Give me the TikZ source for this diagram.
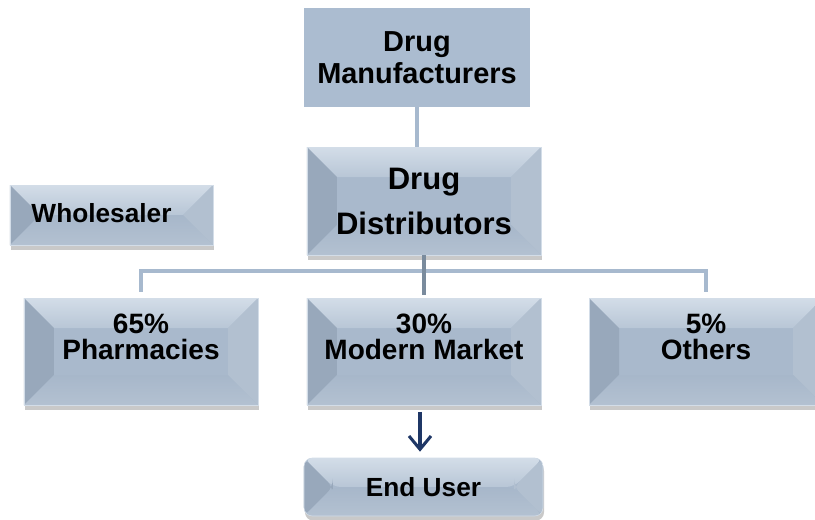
\documentclass[tikz,border=0pt]{standalone}
\usepackage{fontspec}
\setmainfont{Liberation Sans}
\usetikzlibrary{positioning,arrows.meta,shadows}
\definecolor{facecol}{HTML}{A9B9CC}
\definecolor{bevtopA}{HTML}{D3DDE8}
\definecolor{bevtopB}{HTML}{B8C6D6}
\definecolor{bevleft}{HTML}{98A8BB}
\definecolor{bevright}{HTML}{B2C0D0}
\definecolor{bevbotA}{HTML}{A7B7CA}
\definecolor{bevbotB}{HTML}{B3C1D1}
\definecolor{flatcol}{HTML}{ABBCD0}
\definecolor{linkcol}{HTML}{A7B9CE}
\definecolor{trunkcol}{HTML}{7A8B9D}
\definecolor{navy}{HTML}{1F3766}
\tikzset{
  bevel/.style={draw=bevtopA, line width=0.5pt,
    drop shadow={shadow xshift=0.03cm, shadow yshift=-0.14cm, opacity=0.3, fill=black!70},
    path picture={
      \path (path picture bounding box.north west) coordinate (pA)
            (path picture bounding box.north east) coordinate (pB)
            (path picture bounding box.south east) coordinate (pC)
            (path picture bounding box.south west) coordinate (pD);
      \path ([shift={(#1,#1)}]pA) coordinate (iA)
            ([shift={(-#1,#1)}]pB) coordinate (iB)
            ([shift={(-#1,-#1)}]pC) coordinate (iC)
            ([shift={(#1,-#1)}]pD) coordinate (iD);
      \fill[facecol] (pA) rectangle (pC);
      \shade[top color=bevtopA, bottom color=bevtopB] (pA) -- (pB) -- (iB) -- (iA) -- cycle;
      \fill[bevleft] (pA) -- (iA) -- (iD) -- (pD) -- cycle;
      \fill[bevright] (pB) -- (iB) -- (iC) -- (pC) -- cycle;
      \shade[top color=bevbotA, bottom color=bevbotB] (pD) -- (iD) -- (iC) -- (pC) -- cycle;
    }},
  bevel/.default=30,
  flatbox/.style={fill=flatcol, minimum width=6.78cm, minimum height=2.97cm, align=center,
    font=\fontsize{24.7}{27.3}\selectfont\bfseries},
  tierbox/.style={bevel, minimum width=7.02cm, minimum height=3.21cm},
  tiertxt/.style={align=center, font=\fontsize{23.9}{22.2}\selectfont\bfseries},
  smalltxt/.style={font=\fontsize{22.4}{24}\selectfont\bfseries},
  link/.style={draw=linkcol, line width=3.4pt},
  trunk/.style={draw=trunkcol, line width=3.4pt},
  flowarrow/.style={-{Straight Barb[length=4mm, width=6.6mm]}, draw=navy, line width=2.6pt}
}
\begin{document}
\begin{tikzpicture}[x=0.03cm, y=-0.03cm]
  \useasboundingbox (0,0) rectangle (815,519);
  % top of the chain
  \node[flatbox] (mfr) at (417,57.5) {Drug\\Manufacturers};
  \node[bevel, minimum width=7.02cm, minimum height=3.24cm, align=center,
        font=\fontsize{26.5}{38.4}\selectfont\bfseries] (dist) at (424,201) {Drug\\Distributors};
  \node[bevel, minimum width=6.09cm, minimum height=1.8cm,
        label={[smalltxt, xshift=-0.3cm, yshift=0.05cm]center:Wholesaler}] (whs) at (111.5,215) {};
  % outlets
  \node[tierbox, label={[tiertxt, yshift=0.45cm]center:{65\%\\Pharmacies}}] (phar) at (141,351.5) {};
  \node[tierbox, label={[tiertxt, yshift=0.45cm]center:{30\%\\Modern Market}}] (mm) at (424,351.5) {};
  \node[tierbox, label={[tiertxt, yshift=0.45cm]center:{5\%\\Others}}] (oth) at (706,351.5) {};
  \node[bevel=29, rounded corners=0.25cm, minimum width=7.17cm, minimum height=1.74cm,
        smalltxt] (eu) at (423.5,487) {End User};
  % connectors
  \draw[link] (mfr.south) -- (mfr.south |- dist.north);
  \coordinate (bus) at (424,271);
  \draw[link, shorten <=3\pgflinewidth/2, shorten >=3\pgflinewidth/2]
    (phar.north) -- (phar.north |- bus) -- (oth.north |- bus) -- (oth.north);
  \draw[trunk, shorten >=0.08cm] (dist.south) -- (mm.north);
  \draw[flowarrow, shorten <=0.2cm, shorten >=0.18cm]
    ([xshift=-0.12cm]mm.south) -- ([xshift=-0.12cm]mm.south |- eu.north);
\end{tikzpicture}
\end{document}
